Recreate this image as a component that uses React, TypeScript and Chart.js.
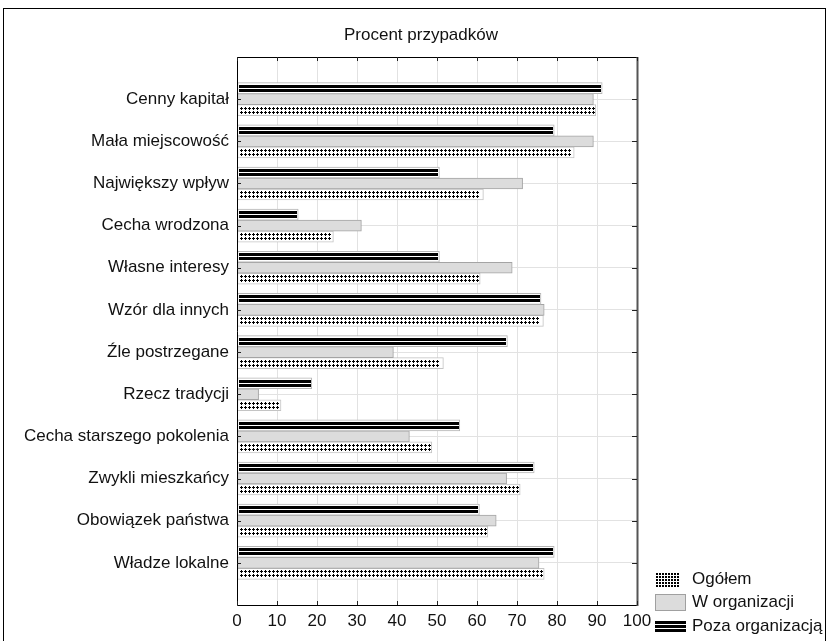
import { useEffect, useRef } from "react";
import { Chart, registerables } from "chart.js";

Chart.register(...registerables);

const chartTitle = "Procent przypadków";
const categories = [
  "Cenny kapitał",
  "Mała miejscowość",
  "Największy wpływ",
  "Cecha wrodzona",
  "Własne interesy",
  "Wzór dla innych",
  "Źle postrzegane",
  "Rzecz tradycji",
  "Cecha starszego pokolenia",
  "Zwykli mieszkańcy",
  "Obowiązek państwa",
  "Władze lokalne",
];
const pozaOrganizacja = [91.3, 79.3, 50.6, 15.3, 50.6, 76.0, 67.6, 18.7, 55.7, 74.3, 60.6, 79.3];
const wOrganizacji = [89.1, 89.1, 71.4, 31.1, 68.8, 76.8, 39.1, 5.4, 43.1, 67.4, 64.8, 75.5];
const ogolem = [89.7, 84.3, 61.6, 24.1, 60.8, 76.6, 51.6, 11.0, 48.7, 70.8, 62.7, 76.8];
const xTickValues = [0, 10, 20, 30, 40, 50, 60, 70, 80, 90, 100];
const legendLabels = ["Ogółem", "W organizacji", "Poza organizacją"];

const FONT = "'Liberation Sans', Arial, sans-serif";
const FSIZE = 17;

function drawCrosses(ctx: CanvasRenderingContext2D, left: number, right: number, top: number) {
  ctx.fillStyle = "#000";
  for (const dy of [3, 7]) {
    const cy = top + dy;
    for (let cx = left + 2; cx <= right - 2; cx += 4) {
      ctx.fillRect(cx - 1, cy, 3, 1);
      ctx.fillRect(cx, cy - 1, 1, 3);
    }
  }
}

const decorPlugin = {
  id: "decor",
  afterDatasetsDraw(chart: any) {
    const ctx: CanvasRenderingContext2D = chart.ctx;
    ctx.save();
    chart.data.datasets.forEach((ds: any, di: number) => {
      const meta = chart.getDatasetMeta(di);
      meta.data.forEach((el: any, i: number) => {
        if (ds.data[i] == null) return;
        const p = el.getProps(["x", "y", "base", "height"], true);
        const left = Math.round(Math.min(p.base, p.x));
        const right = Math.round(Math.max(p.base, p.x));
        const top = Math.round(p.y - p.height / 2);
        if (ds.kind === "stripes") {
          ctx.fillStyle = "#000";
          ctx.fillRect(left + 1, top + 2, right - left - 2, 3);
          ctx.fillRect(left + 1, top + 6, right - left - 2, 3);
        } else if (ds.kind === "crosses") {
          drawCrosses(ctx, left + 1, right - 1, top);
        }
      });
    });
    ctx.restore();
  },
  afterDraw(chart: any) {
    const ctx: CanvasRenderingContext2D = chart.ctx;
    const { left, right, top, bottom } = chart.chartArea;
    const xs = chart.scales.x;
    const ys = chart.scales.y;
    ctx.save();
    // outer frame
    ctx.strokeStyle = "#000";
    ctx.lineWidth = 1;
    ctx.strokeRect(3.5, 8.5, 822, 640);
    // plot frame
    ctx.beginPath();
    ctx.strokeStyle = "#000";
    ctx.moveTo(Math.round(right) + 0.5, Math.round(top) + 0.5);
    ctx.lineTo(Math.round(left) + 0.5, Math.round(top) + 0.5);
    ctx.lineTo(Math.round(left) + 0.5, Math.round(bottom) + 0.5);
    ctx.lineTo(Math.round(right) + 0.5, Math.round(bottom) + 0.5);
    ctx.stroke();
    ctx.beginPath();
    ctx.strokeStyle = "#555";
    ctx.lineWidth = 2;
    ctx.moveTo(Math.round(right) + 0.5, Math.round(top));
    ctx.lineTo(Math.round(right) + 0.5, Math.round(bottom) + 1);
    ctx.stroke();
    // inward ticks
    ctx.lineWidth = 1;
    ctx.strokeStyle = "#222";
    ctx.beginPath();
    xTickValues.forEach((v) => {
      const px = Math.round(xs.getPixelForValue(v)) + 0.5;
      ctx.moveTo(px, Math.round(bottom));
      ctx.lineTo(px, Math.round(bottom) - 4);
      ctx.moveTo(px, Math.round(top));
      ctx.lineTo(px, Math.round(top) + 4);
    });
    categories.forEach((c) => {
      const py = Math.round(ys.getPixelForValue(ys.getLabels().indexOf(c))) + 0.5;
      ctx.moveTo(Math.round(left), py);
      ctx.lineTo(Math.round(left) + 4, py);
      ctx.moveTo(Math.round(right), py);
      ctx.lineTo(Math.round(right) - 5, py);
    });
    ctx.stroke();
    // title
    ctx.fillStyle = "#111";
    ctx.font = `${FSIZE}px ${FONT}`;
    ctx.textAlign = "center";
    ctx.textBaseline = "middle";
    ctx.fillText(chartTitle, (left + right) / 2 - 16, 35);
    // legend
    const lx = Math.round(right) + 18;
    const rows = [579, 602, 626];
    // Ogółem swatch: dotted grid
    ctx.fillStyle = "#000";
    for (let yy = rows[0] - 6; yy <= rows[0] + 6; yy += 3) {
      for (let xx = lx + 1; xx <= lx + 24; xx += 3) {
        ctx.fillRect(xx, yy, 2, 2);
      }
    }
    // W organizacji swatch
    ctx.fillStyle = "#dcdcdc";
    ctx.fillRect(lx, rows[1] - 8, 31, 17);
    ctx.strokeStyle = "#a0a0a0";
    ctx.strokeRect(lx + 0.5, rows[1] - 7.5, 30, 16);
    // Poza swatch
    ctx.fillStyle = "#000";
    ctx.fillRect(lx, rows[2] - 5, 31, 3);
    ctx.fillRect(lx, rows[2] - 1, 31, 3);
    ctx.fillRect(lx, rows[2] + 3, 31, 3);
    ctx.fillStyle = "#111";
    ctx.textAlign = "left";
    legendLabels.forEach((t, i) => ctx.fillText(t, lx + 37, rows[i]));
    ctx.restore();
  },
};

export default function App() {
  const ref = useRef<HTMLCanvasElement | null>(null);
  useEffect(() => {
    document.body.style.margin = "0";
    if (!ref.current) return;
    const padded = ["", ...categories, ""];
    const pad = (arr: number[]) => [null, ...arr, null];
    const chart = new Chart(ref.current, {
      type: "bar",
      data: {
        labels: padded,
        datasets: [
          {
            label: legendLabels[2],
            kind: "stripes",
            data: pad(pozaOrganizacja),
            backgroundColor: "#ffffff",
            borderColor: "#b4b4b4",
            borderWidth: 1,
            borderSkipped: false,
            barThickness: 11,
          } as any,
          {
            label: legendLabels[1],
            kind: "plain",
            data: pad(wOrganizacji),
            backgroundColor: "#dcdcdc",
            borderColor: "#a4a4a4",
            borderWidth: 1,
            borderSkipped: false,
            barThickness: 11,
          } as any,
          {
            label: legendLabels[0],
            kind: "crosses",
            data: pad(ogolem),
            backgroundColor: "#ffffff",
            borderColor: "#c4c4c4",
            borderWidth: 1,
            borderSkipped: false,
            barThickness: 11,
          } as any,
        ],
      },
      options: {
        indexAxis: "y",
        responsive: false,
        animation: false,
        devicePixelRatio: 1,
        layout: { padding: { top: 57, right: 191, left: 0, bottom: 0 } },
        plugins: { legend: { display: false }, title: { display: false }, tooltip: { enabled: false } },
        scales: {
          x: {
            type: "linear",
            min: 0,
            max: 100,
            afterFit: (s: any) => {
              s.height = 36;
            },
            afterBuildTicks: (s: any) => {
              s.ticks = xTickValues.map((v) => ({ value: v }));
            },
            grid: { color: "#e2e2e2", drawTicks: false },
            border: { display: false },
            ticks: {
              padding: 6,
              color: "#111",
              font: { family: FONT, size: FSIZE },
              maxRotation: 0,
            },
          },
          y: {
            type: "category",
            offset: false,
            afterFit: (s: any) => {
              s.width = 237;
            },
            grid: { color: "#e2e2e2", drawTicks: false, offset: false },
            border: { display: false },
            ticks: {
              padding: 8,
              autoSkip: false,
              color: "#111",
              font: { family: FONT, size: FSIZE },
            },
          },
        },
      } as any,
      plugins: [decorPlugin],
    });
    return () => chart.destroy();
  }, []);
  return (
    <div style={{ width: 828, height: 641, position: "relative" }}>
      <canvas ref={ref} width={828} height={641} style={{ display: "block" }} />
    </div>
  );
}
